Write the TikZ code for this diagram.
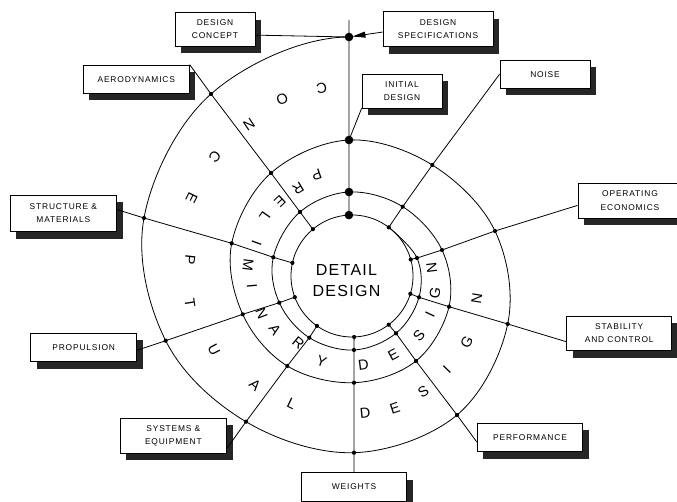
\documentclass[tikz,border=0pt]{standalone}
\usepackage{fontspec}
\setmainfont{Liberation Sans}
\newfontfamily\boxfont[LetterSpace=10]{Liberation Sans}
\newfontfamily\ringfont{Liberation Sans}
\newfontfamily\centerfont[LetterSpace=8]{Liberation Sans}
\usetikzlibrary{shadows,arrows.meta,calc}

\newcommand\pxc[3]{\coordinate (#1) at (#2,502-#3);}
\newcommand\ringch[4]{\node[ringl, rotate={atan2(278-(#3),(#2)-352)+90}] (#1) at (#2,502-#3) {#4};}
\newcommand\boxat[6]{\node[box, minimum width=#4pt, minimum height=#5pt] (#1) at (#2,502-#3) {#6};}

\tikzset{
  box/.style={draw, fill=white, line width=0.8pt, inner sep=0pt, align=center,
    font=\boxfont\fontsize{8.4}{13.5}\selectfont,
    drop shadow={shadow xshift=6pt, shadow yshift=-7pt, fill=black!85, opacity=1}},
  ringl/.style={inner sep=0pt, font=\ringfont\fontsize{14.5}{14.5}\selectfont},
  ringline/.style={line width=0.8pt},
  spoke/.style={line width=0.8pt},
}

\begin{document}
\begin{tikzpicture}[x=1pt, y=1pt, line width=0.8pt]
\useasboundingbox (0,0) rectangle (677,502);
\clip (0,0) rectangle (677,502);

% ---- points (pixel coordinates, y measured downward) ----
\pxc{ttop}{349}{20}
\pxc{Tpre}{487}{94}
\pxc{T0}{349}{37}  \pxc{T1}{349}{140} \pxc{T2}{349}{192}
\pxc{A1}{211}{94}     \pxc{A2}{271}{173}    \pxc{A3}{300}{212}
\pxc{S1}{144}{218}    \pxc{S2}{231.7}{243.3} \pxc{S3}{273.3}{257.3}
\pxc{P1}{165.7}{340.7} \pxc{P2}{242.7}{314.3} \pxc{P3}{279.3}{302.7}
\pxc{Y1}{246}{421.7}  \pxc{Y2}{287.3}{366}  \pxc{Y3}{309.3}{337.7}
\pxc{W1}{354}{452.7}  \pxc{W2}{354}{382.7}  \pxc{W3}{354}{350}
\pxc{F1}{457}{415}    \pxc{F2}{416}{361}    \pxc{F3}{396}{333.3}
\pxc{B1}{507.7}{324}  \pxc{B2}{449}{306.7}  \pxc{B3}{419}{297.3}
\pxc{O1}{495}{231}    \pxc{O2}{442}{250}    \pxc{O3}{417}{258}
\pxc{N1}{432.3}{165}  \pxc{N2}{402.7}{206.7}
\coordinate (Ci) at (352,226);
\coordinate (T3) at ($(Ci)+(92.9:61)$);
\coordinate (A4) at ($(Ci)+(129.9:61)$);
\coordinate (S4) at ($(Ci)+(167.6:61)$);
\coordinate (P4) at ($(Ci)+(200.3:61)$);
\coordinate (Y4) at ($(Ci)+(234.9:61)$);
\coordinate (W4) at ($(Ci)+(272:61)$);
\coordinate (F4) at ($(Ci)+(307:61)$);
\coordinate (B4) at ($(Ci)+(343:61)$);
\coordinate (O4) at ($(Ci)+(15.7:61)$);
\coordinate (N3) at ($(Ci)+(52.9:61)$);

% ---- spiral and inner circle ----
\begin{scope}
  \clip (0,0) rectangle (349,502) (349,0) rectangle (677,372);
  \draw[ringline] plot[smooth, tension=0.6] coordinates {(Tpre) (T0) (A1) (S1) (P1) (Y1) (W1) (F1) (B1) (O1) (N1)
    (T1) (A2) (S2) (P2) (Y2) (W2) (F2) (B2) (O2) (N2)
    (T2) (A3) (S3) (P3) (Y3) (W3) (F3) (B3) (O3) (N3)};
\end{scope}
\draw[ringline] (Ci) circle (61);

% ---- boxes ----
\boxat{dc}{215}{29.35}{80}{33.3}{DESIGN\\CONCEPT}
\boxat{ds}{438}{29.2}{110}{35}{DESIGN\\SPECIFICATIONS}
\boxat{init}{402}{91}{80}{34}{INITIAL\\DESIGN}
\boxat{aero}{136.3}{79.2}{106}{28.3}{AERODYNAMICS}
\boxat{noise}{545}{74.2}{90}{28.3}{NOISE}
\boxat{struct}{63.35}{213.35}{106.7}{36.7}{STRUCTURE \&\\MATERIALS}
\boxat{opec}{630}{200.8}{104}{35}{OPERATING\\ECONOMICS}
\boxat{prop}{83.7}{347.5}{106}{28.4}{PROPULSION}
\boxat{stab}{619.2}{333.35}{105}{34.7}{STABILITY\\AND CONTROL}
\boxat{sys}{173.35}{435.8}{106.7}{35}{SYSTEMS \&\\EQUIPMENT}
\boxat{perf}{530}{437.5}{105.4}{28.4}{PERFORMANCE}
\boxat{wts}{354}{487}{105}{28.4}{WEIGHTS}

% ---- spokes ----
\draw[spoke] (ttop) -- (T3);
\draw[spoke] (aero.north east) -- (A1) -- (A2) -- (A3) -- (A4);
\draw[spoke] (struct.4) -- (S1) -- (S2) -- (S3) -- (S4);
\draw[spoke] (prop.-3) -- (P1) -- (P2) -- (P3) -- (P4);
\draw[spoke] (sys.-13) -- (Y1) -- (Y2) -- (Y3) -- (Y4);
\draw[spoke] (wts.north) -- (W1) -- (W2) -- (W3) -- (W4);
\draw[spoke] (perf.185) -- (F1) -- (F2) -- (F3) -- (F4);
\draw[spoke] (stab.189) -- (B1) -- (B2) -- (B3) -- (B4);
\draw[spoke] (opec.185) -- (O1) -- (O2) -- (O3) -- (O4);
\draw[spoke] (noise.west) -- (N1) -- (N2) -- (N3);
\draw[spoke] (init.south west) -- (T1);
\draw[spoke] ($(dc.south east)!0.33!(dc.north east)$) -- (T0);
\draw[spoke, -{Triangle[length=13pt,width=6pt]}, shorten >=3.5pt] ($(ds.south west)!0.42!(ds.north west)$) -- (T0);

% ---- dots ----
\foreach \p in {A1,A2,A3,A4,S1,S2,S3,S4,P1,P2,P3,P4,Y1,Y2,Y3,Y4,W1,W2,W3,W4,F1,F2,F3,F4,B1,B2,B3,B4,O1,O2,O3,O4,N1,N2,N3}
  \fill (\p) circle (2.1);
\foreach \p in {T0,T1,T2,T3}
  \fill (\p) circle (4.3);

% ---- ring letters ----
\ringch{c1}{321.7}{88.3}{C}
\ringch{c2}{282.3}{99}{O}
\ringch{c3}{249}{125}{N}
\ringch{c4}{215}{156.7}{C}
\ringch{c5}{191.7}{198.3}{E}
\ringch{c6}{190}{260}{P}
\ringch{c7}{190}{303.3}{T}
\ringch{c8}{214}{350}{U}
\ringch{c9}{255}{385}{A}
\ringch{c10}{291.7}{404}{L}
\ringch{d1}{365}{413.3}{D}
\ringch{d2}{395}{408}{E}
\ringch{d3}{423.3}{391.7}{S}
\ringch{d4}{447}{370}{I}
\ringch{d5}{466.7}{341.7}{G}
\ringch{d6}{476.7}{298.3}{N}
\ringch{p1}{316.7}{175}{P}
\ringch{p2}{298.3}{188.3}{R}
\ringch{p3}{280}{201.7}{E}
\ringch{p4}{265}{216.7}{L}
\ringch{p5}{256.7}{243.3}{I}
\ringch{p6}{248}{265}{M}
\ringch{p7}{252}{286}{I}
\ringch{p8}{261.7}{313.3}{N}
\ringch{p9}{275}{330}{A}
\ringch{p10}{298.3}{343.3}{R}
\ringch{p11}{321.7}{361.7}{Y}
\ringch{e1}{363.3}{365}{D}
\ringch{e2}{393.3}{355}{E}
\ringch{e3}{419}{336}{S}
\ringch{e4}{430}{315}{I}
\ringch{e5}{435}{293.3}{G}
\ringch{e6}{431.7}{268.3}{N}

\node[align=center, inner sep=0pt, font=\centerfont\fontsize{16}{21.5}\selectfont] (detail) at (346.5,502-280.5) {DETAIL\\DESIGN};
\end{tikzpicture}
\end{document}
